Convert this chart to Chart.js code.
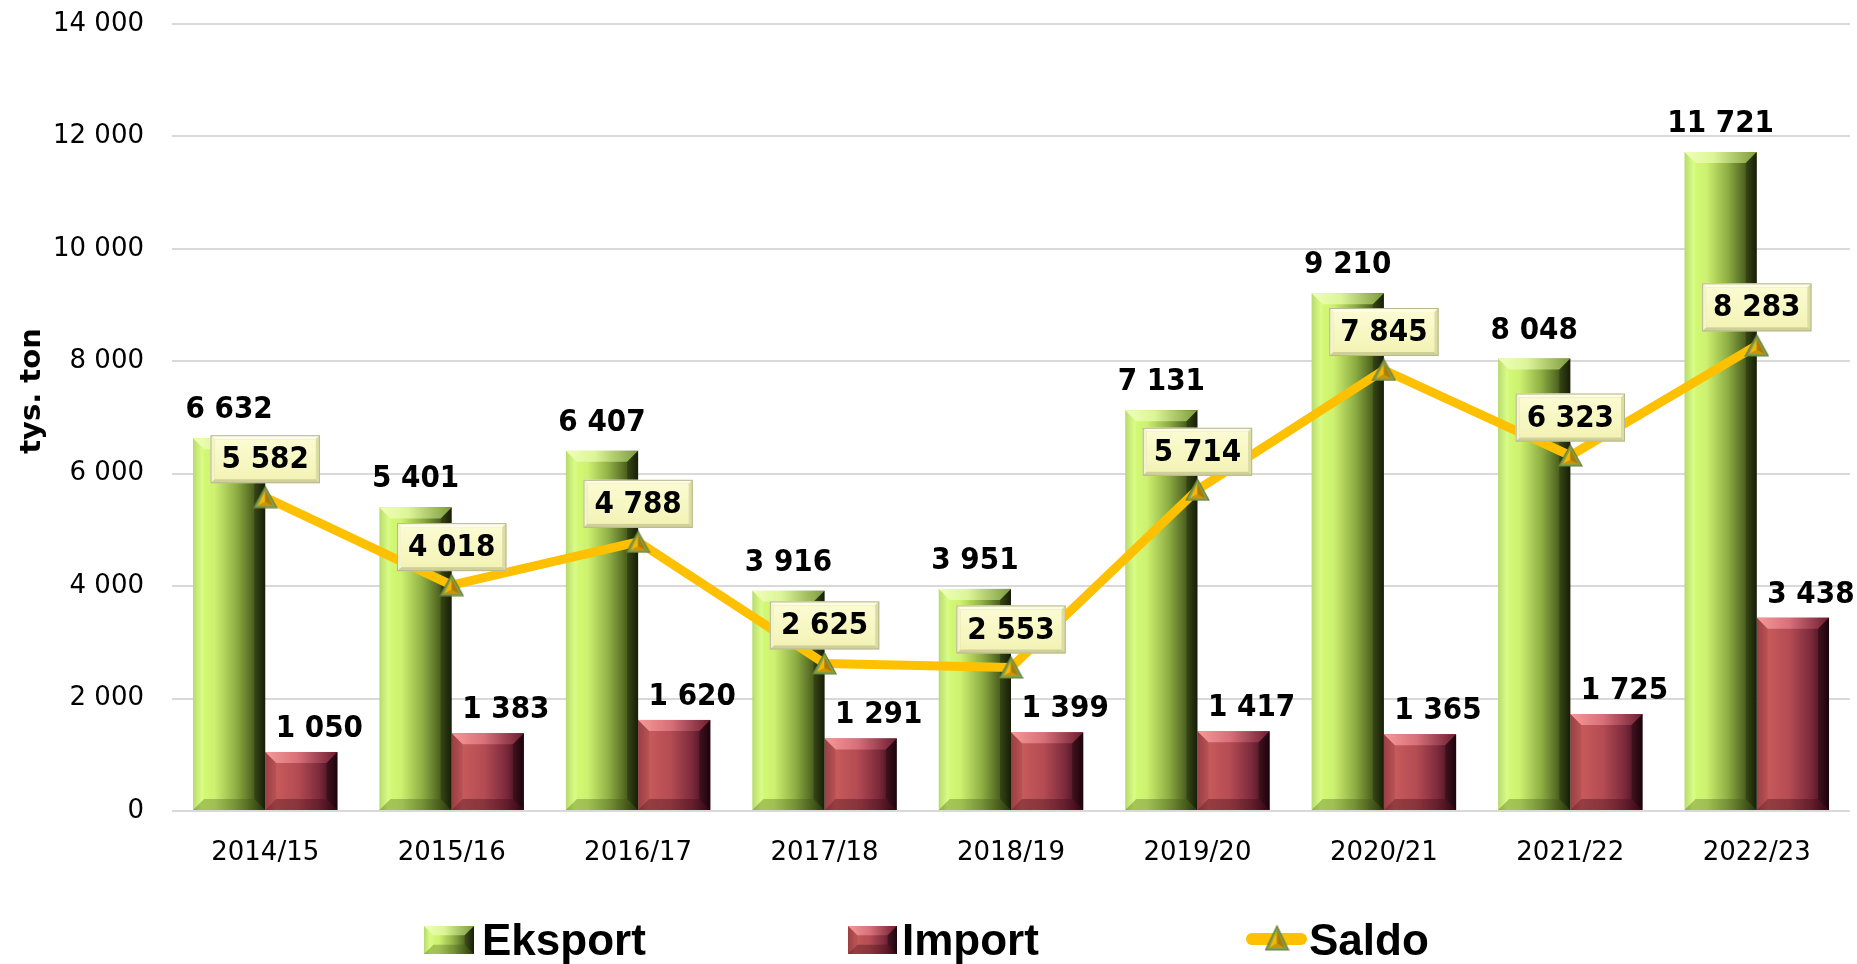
<!DOCTYPE html>
<html>
<head>
<meta charset="utf-8">
<script src="https://cdn.jsdelivr.net/npm/chart.js@4.4.0/dist/chart.umd.min.js"></script>
<style>
  html, body { margin: 0; padding: 0; background: #fff; }
  #wrap { width: 1857px; height: 964px; }
</style>
</head>
<body>
<div id="wrap"><canvas id="tradeChart" width="1857" height="964"></canvas></div>
<script>
const seasons = ['2014/15', '2015/16', '2016/17', '2017/18', '2018/19', '2019/20', '2020/21', '2021/22', '2022/23'];
const eksport = [6632, 5401, 6407, 3916, 3951, 7131, 9210, 8048, 11721];
const importValues = [1050, 1383, 1620, 1291, 1399, 1417, 1365, 1725, 3438];
const saldo = [5582, 4018, 4788, 2625, 2553, 5714, 7845, 6323, 8283];
const yTickValues = [0, 2000, 4000, 6000, 8000, 10000, 12000, 14000];
const seriesNames = ['Eksport', 'Import', 'Saldo'];
const axisTitle = 'tys. ton';

const labelFont = 'bold 31px "DejaVu Sans Condensed", "DejaVu Sans"';
const tickFont = { family: '"DejaVu Sans"', size: 26 };

// thousands with a space, like the original
const fmt = v => String(v).replace(/\B(?=(\d{3})+(?!\d))/g, ' ');

const palettes = [
  { // green (Eksport)
    body: [[0, '#aed65a'], [0.12, '#d3fb74'], [0.3, '#cdf170'], [0.6, '#8eae44'], [0.85, '#4a5e1e'], [1, '#1e280a']],
    top: [[0, '#f0ffb8'], [0.4, '#dcf598'], [1, '#7c9a3c']],
    bottom: 'rgba(60,80,20,0.3)',
    left: 'rgba(255,255,255,0.12)',
    right: 'rgba(0,0,0,0.25)'
  },
  { // red (Import)
    body: [[0, '#a8444a'], [0.15, '#c75a5b'], [0.45, '#b44c53'], [0.75, '#7c2a3c'], [1, '#2a0412']],
    top: [[0, '#f59a98'], [0.45, '#d8707a'], [1, '#6c1c30']],
    bottom: 'rgba(60,10,20,0.35)',
    left: 'rgba(0,0,0,0.08)',
    right: 'rgba(0,0,0,0.3)'
  }
];

function poly(ctx, pts) {
  ctx.beginPath();
  ctx.moveTo(pts[0][0], pts[0][1]);
  for (let i = 1; i < pts.length; i++) ctx.lineTo(pts[i][0], pts[i][1]);
  ctx.closePath();
}

function drawBevelBox(ctx, l, t, r, b, pal) {
  const w = r - l, h = b - t;
  const e = Math.min(11, w / 5, h / 3);
  ctx.save();
  let g = ctx.createLinearGradient(l, 0, r, 0);
  pal.body.forEach(([s, c]) => g.addColorStop(s, c));
  ctx.fillStyle = g;
  ctx.fillRect(l, t, w, h);

  g = ctx.createLinearGradient(l, 0, r, 0);
  pal.top.forEach(([s, c]) => g.addColorStop(s, c));
  ctx.fillStyle = g;
  poly(ctx, [[l, t], [r, t], [r - e, t + e], [l + e, t + e]]);
  ctx.fill();

  ctx.fillStyle = pal.bottom;
  poly(ctx, [[l, b], [r, b], [r - e, b - e], [l + e, b - e]]);
  ctx.fill();

  ctx.fillStyle = pal.left;
  poly(ctx, [[l, t], [l + e, t + e], [l + e, b - e], [l, b]]);
  ctx.fill();

  ctx.fillStyle = pal.right;
  poly(ctx, [[r, t], [r - e, t + e], [r - e, b - e], [r, b]]);
  ctx.fill();
  ctx.restore();
}

function makeTriangle(w, h) {
  const c = document.createElement('canvas');
  c.width = w; c.height = h;
  const g = c.getContext('2d');
  const ax = w / 2, ay = 1, lx = 1, rx = w - 1, by = h - 1;
  g.fillStyle = '#83a04c';
  poly(g, [[ax, ay], [rx, by], [lx, by]]);
  g.fill();
  const cx = w / 2, cy = h * 0.7;
  const ia = [ax, ay + 4], il = [lx + 4, by - 2], ir = [rx - 4, by - 2];
  g.fillStyle = '#f4b800';
  poly(g, [ia, [cx, cy], il]); g.fill();
  g.fillStyle = '#b07a00';
  poly(g, [ia, ir, [cx, cy]]); g.fill();
  g.fillStyle = '#d09400';
  poly(g, [il, [cx, cy], ir]); g.fill();
  g.strokeStyle = '#6a7e38';
  g.lineWidth = 1.2;
  poly(g, [[ax, ay], [rx, by], [lx, by]]);
  g.stroke();
  return c;
}

const triangleImg = makeTriangle(25, 23);
const legendTriangle = makeTriangle(25, 26);

function drawLabelBox(ctx, l, t, w, h) {
  const r = l + w, b = t + h, e = 4;
  ctx.fillStyle = '#cfcf98';
  ctx.fillRect(l, t, w, h);
  ctx.fillStyle = '#fdfde6';
  poly(ctx, [[l, t], [r, t], [r - e, t + e], [l + e, t + e]]); ctx.fill();
  ctx.fillStyle = '#f4f4cc';
  poly(ctx, [[l, t], [l + e, t + e], [l + e, b - e], [l, b]]); ctx.fill();
  ctx.fillStyle = '#dcdca4';
  poly(ctx, [[r, t], [r - e, t + e], [r - e, b - e], [r, b]]); ctx.fill();
  const g = ctx.createLinearGradient(0, t + e, 0, b - e);
  g.addColorStop(0, '#fbfbd2');
  g.addColorStop(1, '#f3f3b6');
  ctx.fillStyle = g;
  ctx.fillRect(l + e, t + e, w - 2 * e, h - 2 * e);
  ctx.strokeStyle = '#b8b890';
  ctx.lineWidth = 1;
  ctx.strokeRect(l + 0.5, t + 0.5, w - 1, h - 1);
}

const bevelBars = {
  id: 'bevelBars',
  beforeDatasetDraw(chart, args) {
    if (args.meta.type !== 'bar') return;
    const pal = palettes[args.index];
    const ctx = chart.ctx;
    args.meta.data.forEach(bar => {
      const p = bar.getProps(['x', 'y', 'base', 'width'], true);
      drawBevelBox(ctx, p.x - p.width / 2, p.y, p.x + p.width / 2, p.base, pal);
    });
    return false;
  }
};

const valueLabels = {
  id: 'valueLabels',
  afterDatasetsDraw(chart) {
    const ctx = chart.ctx;
    ctx.save();
    ctx.font = labelFont;
    ctx.fillStyle = '#000';
    ctx.textAlign = 'center';
    ctx.textBaseline = 'alphabetic';
    chart.getDatasetMeta(0).data.forEach((bar, i) => {
      ctx.fillText(fmt(eksport[i]), bar.x, bar.y - 20);
    });
    chart.getDatasetMeta(1).data.forEach((bar, i) => {
      ctx.fillText(fmt(importValues[i]), bar.x + 18, bar.y - 15);
    });
    chart.getDatasetMeta(2).data.forEach((pt, i) => {
      const txt = fmt(saldo[i]);
      const w = ctx.measureText(txt).width + 22, h = 48;
      const t = pt.y - 14 - h;
      drawLabelBox(ctx, pt.x - w / 2, t, w, h);
      ctx.fillStyle = '#000';
      ctx.textBaseline = 'middle';
      ctx.fillText(txt, pt.x, t + h / 2 + 1);
    });
    ctx.restore();
  }
};

// legend and the rotated axis title, placed like the original
const bottomLegend = {
  id: 'bottomLegend',
  afterDraw(chart) {
    const ctx = chart.ctx;
    ctx.save();
    const names = chart.data.datasets.map(d => d.label);
    drawBevelBox(ctx, 424, 926, 474, 954, palettes[0]);
    drawBevelBox(ctx, 848, 926, 897, 954, palettes[1]);
    ctx.strokeStyle = '#FFC000';
    ctx.lineWidth = 12;
    ctx.lineCap = 'round';
    ctx.beginPath();
    ctx.moveTo(1252, 939);
    ctx.lineTo(1301, 939);
    ctx.stroke();
    ctx.drawImage(legendTriangle, 1277 - legendTriangle.width / 2, 939 - legendTriangle.height / 2 - 1);

    ctx.font = 'bold 44px "Liberation Sans"';
    ctx.fillStyle = '#000';
    ctx.textAlign = 'left';
    ctx.textBaseline = 'alphabetic';
    ctx.fillText(names[0], 482, 955);
    ctx.fillText(names[1], 902, 955);
    ctx.fillText(names[2], 1309, 955);

    ctx.translate(32, 391);
    ctx.rotate(-Math.PI / 2);
    ctx.font = 'bold 29px "DejaVu Sans"';
    ctx.textAlign = 'center';
    ctx.textBaseline = 'middle';
    ctx.fillText(axisTitle, 0, 0);
    ctx.restore();
  }
};

new Chart(document.getElementById('tradeChart'), {
  data: {
    labels: seasons,
    datasets: [
      {
        type: 'bar',
        label: seriesNames[0],
        data: eksport,
        order: 1,
        backgroundColor: '#c8ec6c',
        categoryPercentage: 0.775,
        barPercentage: 1
      },
      {
        type: 'bar',
        label: seriesNames[1],
        data: importValues,
        order: 1,
        backgroundColor: '#b44c53',
        categoryPercentage: 0.775,
        barPercentage: 1
      },
      {
        type: 'line',
        label: seriesNames[2],
        data: saldo,
        order: 0,
        borderColor: '#FFC000',
        borderWidth: 9,
        borderJoinStyle: 'round',
        tension: 0,
        pointStyle: triangleImg,
        pointRadius: 12
      }
    ]
  },
  options: {
    responsive: false,
    animation: false,
    layout: { autoPadding: false, padding: { top: 24, right: 7, left: 0, bottom: 0 } },
    plugins: {
      legend: { display: false },
      tooltip: { enabled: false }
    },
    scales: {
      x: {
        grid: { display: false },
        border: { display: false },
        ticks: {
          color: '#000',
          font: tickFont,
          padding: 19,
          maxRotation: 0
        },
        afterFit(s) { s.height = 153; }
      },
      y: {
        min: 0,
        max: 14000,
        afterBuildTicks(s) { s.ticks = yTickValues.map(v => ({ value: v })); },
        ticks: {
          color: '#000',
          font: tickFont,
          padding: 28,
          callback: v => fmt(v)
        },
        grid: { color: '#d9d9d9', lineWidth: 2, drawTicks: false },
        border: { display: false },
        afterFit(s) {
          s.width = 172;
          s.paddingTop = 0;
          s.paddingBottom = 0;
        }
      }
    }
  },
  plugins: [bevelBars, valueLabels, bottomLegend]
});
</script>
</body>
</html>
